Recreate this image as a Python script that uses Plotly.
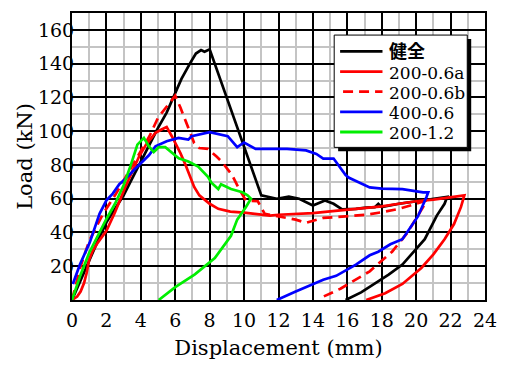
import plotly.graph_objects as go

# ---- data ----
names = ["健全", "200-0.6a", "200-0.6b", "400-0.6", "200-1.2"]

black_x = [0, 0.5, 1, 1.5, 2, 2.5, 3, 3.5, 4, 4.5, 5, 5.5, 5.9, 6.36, 6.85, 7.2, 7.5, 7.7, 8.0,
           8.5, 9, 9.5, 10, 10.5, 11, 11.9, 12.6, 13.2, 14, 14.7, 15.2, 15.7, 16.5, 17.1, 17.6,
           17.8, 18, 19, 20, 21, 21.8,
           21.65, 21.2, 20.5, 19.8, 19.2, 18.4, 17.6, 16.8, 15.9]
black_y = [0, 12, 24, 35, 46, 54, 62, 72, 82, 92, 102, 111, 120, 131, 140, 146, 148, 147, 148.5,
           134, 120, 105, 91, 77, 62, 60, 61.3, 60, 56, 59, 57, 53.7, 54, 54.7, 55,
           57, 55, 57, 58.5, 60, 61,
           57, 50, 36, 28, 21, 15, 9.5, 4.5, 0]

red_a_x = [0, 0.3, 0.5, 0.7, 0.85, 1.0, 1.2, 1.5, 2, 2.5, 3.1, 3.5, 3.9, 4.3, 4.85, 5.2, 5.5,
           5.8, 6.3, 6.6, 7.1, 7.4, 8.0, 8.5, 9.2, 10, 10.8, 11.5, 12, 13, 14, 15, 16, 17, 18,
           19, 20, 21, 22, 22.8,
           22.6, 22.2, 21.65, 21, 20.3, 19.2, 18.2, 17.1]
red_a_y = [0, 2, 5, 10, 16, 24, 29, 34, 41, 52, 67, 76, 85, 92, 99, 101, 102.5,
           97, 87, 80, 67, 62, 57, 54, 52.4, 51.8, 51, 50, 50.5, 50.8, 51.5, 52.5, 53.5, 54.5, 55.5,
           57, 58.5, 59.5, 61, 62,
           55, 45, 36, 27, 19, 9.5, 4, 0]

red_b_x = [0, 0.2, 0.5, 1, 1.8, 2.5, 3.3, 4, 4.5, 5, 5.6, 6, 6.3, 6.7, 7.1, 7.4, 7.9, 8.4, 8.7,
           9.3, 9.7, 10.1, 10.8, 11.2, 12, 13, 13.6, 14.6, 15.9, 17.1, 18, 19, 20, 20.6,
           20.4, 19.5, 18.6, 17.3, 15.6, 14.5]
red_b_y = [0, 8, 20, 35, 51, 62, 76, 88, 97, 108, 116, 121, 114, 103, 93, 90, 89.5, 85, 82,
           74, 66, 59, 58.5, 51, 49.5, 47.6, 45.7, 48.6, 49.5, 50.5, 52, 54, 57, 59,
           55, 40, 28.6, 17, 6.7, 1.5]

blue_x = [0.05, 0.46, 1.03, 1.6, 2.0, 2.37, 2.75, 3.13, 3.7, 4.08, 4.47, 4.85, 5.5, 6.19, 6.76,
          6.95, 8.0, 9.05, 9.6, 10.0, 10.67, 11.3, 12.5, 13.6, 14.2, 14.6, 15.2, 15.9, 16.1,
          17.3, 18, 19.2, 20.4, 20.7,
          20.6, 20.1, 19.2, 18.5, 17.8, 17.3, 16.5, 15.35, 14.6, 13, 11.9]
blue_y = [9.5, 21, 34, 51, 59, 63, 68.6, 72, 78, 82, 85.7, 91, 94, 96, 95,
          97, 99.4, 97, 90.5, 93.3, 89.5, 89.5, 89.5, 88.6, 86.5, 83.8, 83.8, 74, 72.4,
          66.7, 66, 65.7, 63.8, 63.8,
          61, 49.5, 36, 33, 28.6, 26.5, 21, 14.3, 12, 5, 0]

green_x = [0, 0.5, 1, 1.5, 2, 2.5, 3, 3.42, 3.8, 4.18, 4.47, 4.75, 5.04, 5.42, 5.8, 6.2, 6.76,
           7.33, 7.9, 8.1, 8.5, 8.66, 9.24, 9.9, 10.2, 10.4,
           10.1, 9.6, 9.24, 8.3, 7.14, 6.0, 5.04]
green_y = [0, 15, 28, 38, 48, 57, 68, 80, 92, 96, 91, 87.6, 90.5, 90.5, 87.6, 84, 82,
           79, 73, 69.5, 65.7, 68.6, 65.7, 63.8, 62, 60,
           55, 47.6, 38, 24.8, 15.2, 7.6, 0]

x_ticks = list(range(0, 25, 2))
y_ticks = list(range(20, 161, 20))

colors = ["black", "#ff0000", "#ff0000", "#0000ff", "#00ee00"]
dashes = ["solid", "solid", "10px,6px", "solid", "solid"]
xs_all = [black_x, red_a_x, red_b_x, blue_x, green_x]
ys_all = [black_y, red_a_y, red_b_y, blue_y, green_y]

SERIF = "DejaVu Serif"
CJK = "Noto Sans CJK JP"

fig = go.Figure()
for name, xs, ys, col, dash in zip(names, xs_all, ys_all, colors, dashes):
    fig.add_trace(go.Scatter(x=xs, y=ys, mode="lines", name=name, showlegend=False,
                             line=dict(color=col, width=2.7, dash=dash)))

# plot area in pixels: x 72..491, y 11..310
L, R, T, B = 72, 491, 11, 310
def px(xp):
    return (xp - L) / (R - L)
def py(yp):
    return (B - yp) / (B - T)

shapes = []
annotations = []
# legend box with drop shadow
bx0, bx1, by0, by1 = 338, 473, 34, 151
shapes.append(dict(type="rect", xref="paper", yref="paper", layer="above",
                   x0=px(bx0 + 4), x1=px(bx1 + 4), y0=py(by1 + 4), y1=py(by0 + 4),
                   fillcolor="black", line=dict(width=0)))
shapes.append(dict(type="rect", xref="paper", yref="paper", layer="above",
                   x0=px(bx0), x1=px(bx1), y0=py(by1), y1=py(by0),
                   fillcolor="white", line=dict(color="black", width=1)))
row_y = [51, 72, 93, 114, 135]
for i, (name, col, dash) in enumerate(zip(names, colors, dashes)):
    ly = row_y[i]
    shapes.append(dict(type="line", xref="paper", yref="paper", layer="above",
                       x0=px(344 if dash == "solid" else 347), x1=px(387),
                       y0=py(ly), y1=py(ly),
                       line=dict(color=col, width=2.8, dash=dash)))
    annotations.append(dict(xref="paper", yref="paper", x=px(392), y=py(ly - 1 if i == 0 else ly + 1),
                            xanchor="left", yanchor="middle", showarrow=False,
                            text=name,
                            font=dict(family=CJK if i == 0 else SERIF,
                                      size=18 if i == 0 else 17, color="black",
                                      weight="bold" if i == 0 else "normal")))

fig.update_layout(
    width=508, height=367, autosize=False,
    margin=dict(l=L, r=508 - R, t=T, b=367 - B),
    paper_bgcolor="white", plot_bgcolor="white",
    font=dict(family=SERIF, color="black", size=19),
    showlegend=False,
    shapes=shapes, annotations=annotations,
    xaxis=dict(range=[0, 24], tickmode="array", tickvals=x_ticks,
               ticktext=[str(v) for v in x_ticks],
               showgrid=True, gridcolor="black", gridwidth=1.6,
               minor=dict(tickmode="linear", tick0=0, dtick=1, showgrid=True,
                          gridcolor="#c4c4c4", gridwidth=1.5),
               showline=True, linecolor="black", linewidth=2, mirror=True,
               ticks="", zeroline=False, ticklabelstandoff=2,
               title=dict(text="Displacement (mm)", font=dict(family=SERIF, size=21), standoff=11),
               tickfont=dict(family=SERIF, size=19)),
    yaxis=dict(range=[0, 170], tickmode="array", tickvals=y_ticks,
               ticktext=[str(v) for v in y_ticks],
               showgrid=True, gridcolor="black", gridwidth=1.6,
               minor=dict(tickmode="linear", tick0=0, dtick=10, showgrid=True,
                          gridcolor="#c4c4c4", gridwidth=1.5),
               showline=True, linecolor="black", linewidth=2, mirror=True,
               ticks="", zeroline=False, ticklabelstandoff=-8,
               title=dict(text="Load (kN)", font=dict(family=SERIF, size=21), standoff=0),
               tickfont=dict(family=SERIF, size=19)),
)

fig.write_html("out.html")
